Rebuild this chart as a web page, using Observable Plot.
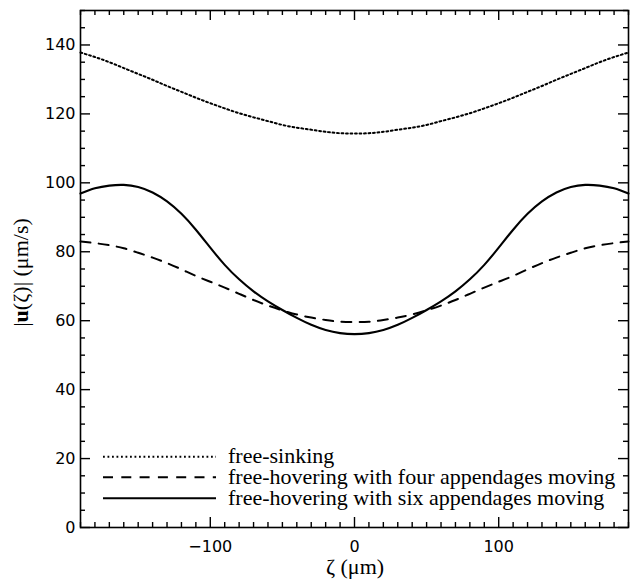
<!DOCTYPE html>
<html>
<head>
<meta charset="utf-8">
<script src="https://cdn.jsdelivr.net/npm/d3@7"></script>
<script src="https://cdn.jsdelivr.net/npm/@observablehq/plot@0.6"></script>
<style>
  body { margin: 0; background: #fff; }
  #chart { width: 630px; height: 580px; }
</style>
</head>
<body>
<div id="chart"></div>
<script>
// ---- data ----
const zeta = [-190,-180,-170,-160,-150,-140,-130,-120,-110,-100,-90,-80,-70,-60,-50,-40,-30,-20,-10,0,
              10,20,30,40,50,60,70,80,90,100,110,120,130,140,150,160,170,180,190];
const freeSinking = [137.8,136.5,135.0,133.3,131.6,129.9,128.1,126.4,124.7,123.1,121.6,120.2,119.0,117.9,116.8,116.0,115.4,114.8,114.4,114.3,
                     114.4,114.8,115.4,116.0,116.8,117.9,119.0,120.2,121.6,123.1,124.7,126.4,128.1,129.9,131.6,133.3,135.0,136.5,137.8];
const fourAppendages = [83.0,82.5,81.9,81.0,79.7,78.3,76.7,74.9,73.0,71.3,69.6,67.8,66.0,64.4,63.0,61.8,60.9,60.2,59.7,59.6,
                        59.7,60.2,60.9,61.8,63.0,64.4,66.0,67.8,69.6,71.3,73.0,74.9,76.7,78.3,79.7,81.0,81.9,82.5,83.0];
const sixAppendages = [96.9,98.4,99.2,99.4,98.8,97.2,94.6,91.0,86.4,81.2,76.2,72.0,68.5,65.6,63.1,60.8,58.8,57.3,56.4,56.1,
                       56.4,57.3,58.8,60.8,63.1,65.6,68.5,72.0,76.2,81.2,86.4,91.0,94.6,97.2,98.8,99.4,99.2,98.4,96.9];
const seriesNames = ["free-sinking", "free-hovering with four appendages moving", "free-hovering with six appendages moving"];
const xMajorTicks = [-100, 0, 100];
const xMinorTicks = d3.range(-190, 191, 10);
const yMajorTicks = [0, 20, 40, 60, 80, 100, 120, 140];
const yMinorTicks = d3.range(0, 151, 5);
const xLabel = "ζ (μm)";

(function () {
// ---- layout / styles ----
const W = 630, H = 580, mL = 80, mR = 2, mT = 10, mB = 53;
const innerW = W - mL - mR, innerH = H - mT - mB;
const xDom = [-190, 190], yDom = [0, 150];
const styles = [
  {dash: "1.8,2.7", width: 2},
  {dash: "10,8.3", width: 2},
  {dash: null, width: 2.1}
];
const seriesValues = [freeSinking, fourAppendages, sixAppendages];

const lineMarks = seriesValues.map((vals, k) =>
  Plot.line(zeta.map((z, i) => ({zeta: z, value: vals[i]})), {
    x: "zeta", y: "value", stroke: "black", strokeWidth: styles[k].width,
    strokeDasharray: styles[k].dash, curve: "natural"
  })
);

const minus = d => d < 0 ? "\u2212" + (-d) : String(d);

// tick lengths in px converted to data units so the rule marks run inward from the frame
const pxX = (xDom[1] - xDom[0]) / innerW, pxY = (yDom[1] - yDom[0]) / innerH;
const yLen = v => (yMajorTicks.includes(v) ? 10 : 5) * pxX;
const xLen = v => (xMajorTicks.includes(v) ? 10 : 5) * pxY;
const tickStyle = {stroke: "black", strokeWidth: 1.4};
const inwardTicks = [
  Plot.ruleY(yMinorTicks, {y: d => d, x1: xDom[0], x2: d => xDom[0] + yLen(d), ...tickStyle}),
  Plot.ruleY(yMinorTicks, {y: d => d, x1: xDom[1], x2: d => xDom[1] - yLen(d), ...tickStyle}),
  Plot.ruleX(xMinorTicks, {x: d => d, y1: yDom[0], y2: d => yDom[0] + xLen(d), ...tickStyle}),
  Plot.ruleX(xMinorTicks, {x: d => d, y1: yDom[1], y2: d => yDom[1] - xLen(d), ...tickStyle})
];

const plot = Plot.plot({
  width: W, height: H,
  marginLeft: mL, marginRight: mR, marginTop: mT, marginBottom: mB,
  style: {fontFamily: "DejaVu Sans", fontSize: "16px", color: "black", background: "white"},
  x: {domain: xDom},
  y: {domain: yDom},
  marks: [
    ...lineMarks,
    ...inwardTicks,
    Plot.frame({stroke: "black", strokeWidth: 1.6}),
    Plot.axisY(yMajorTicks, {anchor: "left", tickSize: 0, tickPadding: 5, label: null, fontSize: 16, fill: "black"}),
    Plot.axisX(xMajorTicks, {anchor: "bottom", tickSize: 0, tickPadding: 13, label: null, tickFormat: minus, fontSize: 16, fill: "black"})
  ]
});

const svg = d3.select(plot);
const serif = "'Liberation Serif', 'Times New Roman', serif";

// x-axis label
svg.append("text")
  .attr("x", mL + innerW / 2 + 1).attr("y", 574)
  .attr("text-anchor", "middle")
  .attr("font-family", serif).attr("font-size", 22).attr("fill", "black")
  .text(xLabel);

// y-axis label with bold u
const yl = svg.append("text")
  .attr("transform", `translate(28,${mT + innerH / 2 + 4}) rotate(-90)`)
  .attr("text-anchor", "middle")
  .attr("font-family", serif).attr("font-size", 22).attr("fill", "black");
yl.append("tspan").text("|");
yl.append("tspan").attr("font-weight", "bold").text("u");
yl.append("tspan").text("(ζ)| (μm/s)");

// legend
const legendRowsY = [456.7, 477.3, 498.3];
const lg = svg.append("g");
seriesNames.forEach((name, k) => {
  lg.append("line")
    .attr("x1", 103).attr("x2", 216)
    .attr("y1", legendRowsY[k]).attr("y2", legendRowsY[k])
    .attr("stroke", "black").attr("stroke-width", styles[k].width)
    .attr("stroke-dasharray", styles[k].dash);
  lg.append("text")
    .attr("x", 228).attr("y", legendRowsY[k] + 6.5)
    .attr("text-anchor", "start")
    .attr("font-family", serif).attr("font-size", 22).attr("fill", "black")
    .text(name);
});

document.getElementById("chart").appendChild(plot);
})();
</script>
</body>
</html>
